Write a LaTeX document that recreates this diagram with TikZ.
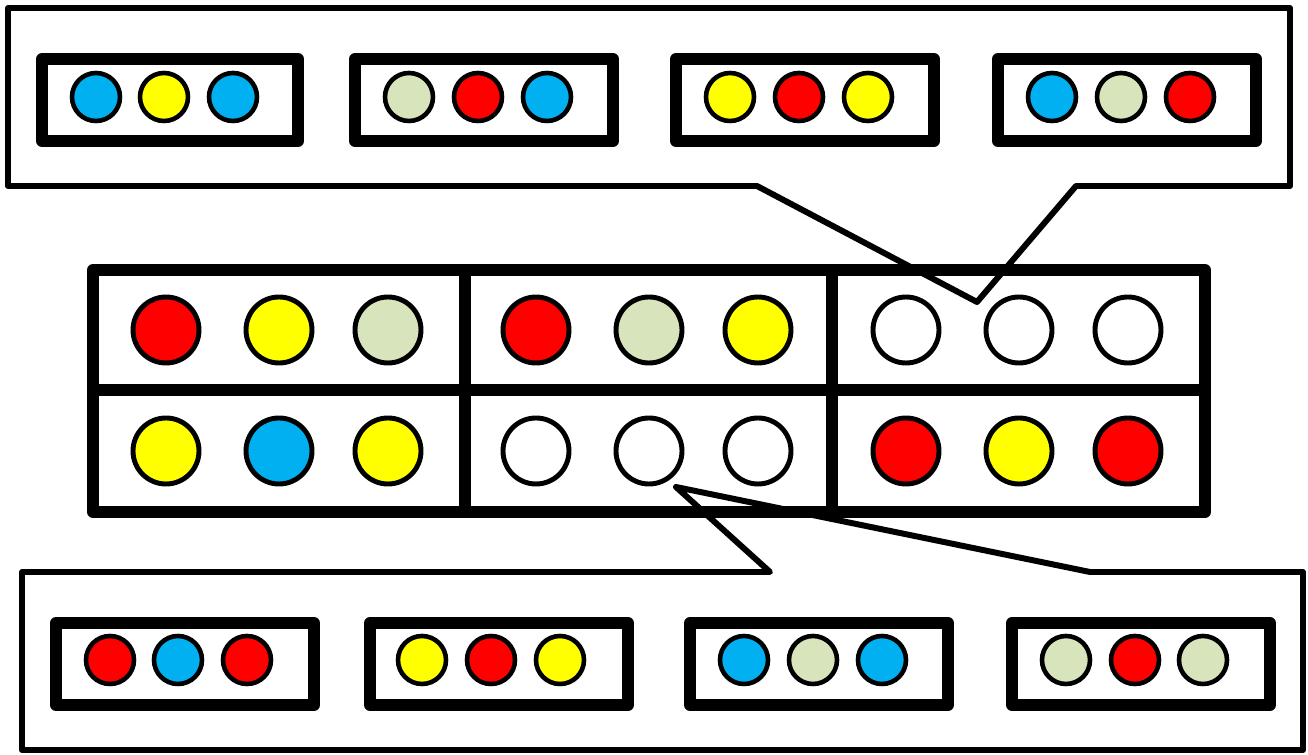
\documentclass[tikz,border=0pt]{standalone}
\usepackage{tikz}
\definecolor{dotblue}{HTML}{00B0F0}
\definecolor{dotyellow}{HTML}{FFFF00}
\definecolor{dotred}{HTML}{FF0000}
\definecolor{dotgreen}{HTML}{D8E4BC}

\begin{document}
\begin{tikzpicture}[x=0.01cm, y=-0.01cm,
  cell/.style={draw=black, line width=3.4pt, line join=round},
  bigdot/.style={draw=black, line width=1.4pt},
  smalldot/.style={draw=black, line width=1.3pt},
  callout/.style={draw=black, line width=1.7pt, line join=round}]
  \useasboundingbox (0,0) rectangle (1308,755);

  % --- Main grid (2 rows x 3 cells) ---
  \draw[cell] (93,270) rectangle (465,390);
  \draw[cell] (465,270) rectangle (832,390);
  \draw[cell] (832,270) rectangle (1205,390);
  \draw[cell] (93,390) rectangle (465,512);
  \draw[cell] (465,390) rectangle (832,512);
  \draw[cell] (832,390) rectangle (1205,512);

  % row 1
  \foreach \x/\c in {166/dotred, 279/dotyellow, 388/dotgreen,
                     536/dotred, 649/dotgreen, 758/dotyellow,
                     906/white, 1019/white, 1128/white}
    \filldraw[bigdot, fill=\c] (\x,330) circle (33);
  % row 2
  \foreach \x/\c in {166/dotyellow, 279/dotblue, 388/dotyellow,
                     536/white, 649/white, 758/white,
                     906/dotred, 1019/dotyellow, 1128/dotred}
    \filldraw[bigdot, fill=\c] (\x,451) circle (33);

  % --- Top callout (points into empty cell of row 1) ---
  \draw[callout] (8,8) -- (1290,8) -- (1290,186) -- (1076,186)
      -- (977,302) -- (757,186) -- (8,186) -- cycle;
  \draw[cell] (42,59) rectangle (298,141);
  \draw[cell] (355,59) rectangle (613,141);
  \draw[cell] (676,59) rectangle (934,141);
  \draw[cell] (998,59) rectangle (1256,141);
  \foreach \x/\c in {96/dotblue, 164/dotyellow, 233/dotblue,
                     409/dotgreen, 478/dotred, 547/dotblue,
                     730/dotyellow, 799/dotred, 868/dotyellow,
                     1052/dotblue, 1121/dotgreen, 1190/dotred}
    \filldraw[smalldot, fill=\c] (\x,97) circle (24);

  % --- Bottom callout (points into empty cell of row 2) ---
  \draw[callout] (22,572) -- (770,572) -- (676,487) -- (1090,572)
      -- (1303,572) -- (1303,750) -- (22,750) -- cycle;
  \draw[cell] (56,623) rectangle (314,705);
  \draw[cell] (370,623) rectangle (628,705);
  \draw[cell] (690,623) rectangle (948,705);
  \draw[cell] (1012,623) rectangle (1270,705);
  \foreach \x/\c in {110/dotred, 178/dotblue, 247/dotred,
                     422/dotyellow, 491/dotred, 560/dotyellow,
                     744/dotblue, 813/dotgreen, 882/dotblue,
                     1066/dotgreen, 1135/dotred, 1203/dotgreen}
    \filldraw[smalldot, fill=\c] (\x,660) circle (24);
\end{tikzpicture}
\end{document}
